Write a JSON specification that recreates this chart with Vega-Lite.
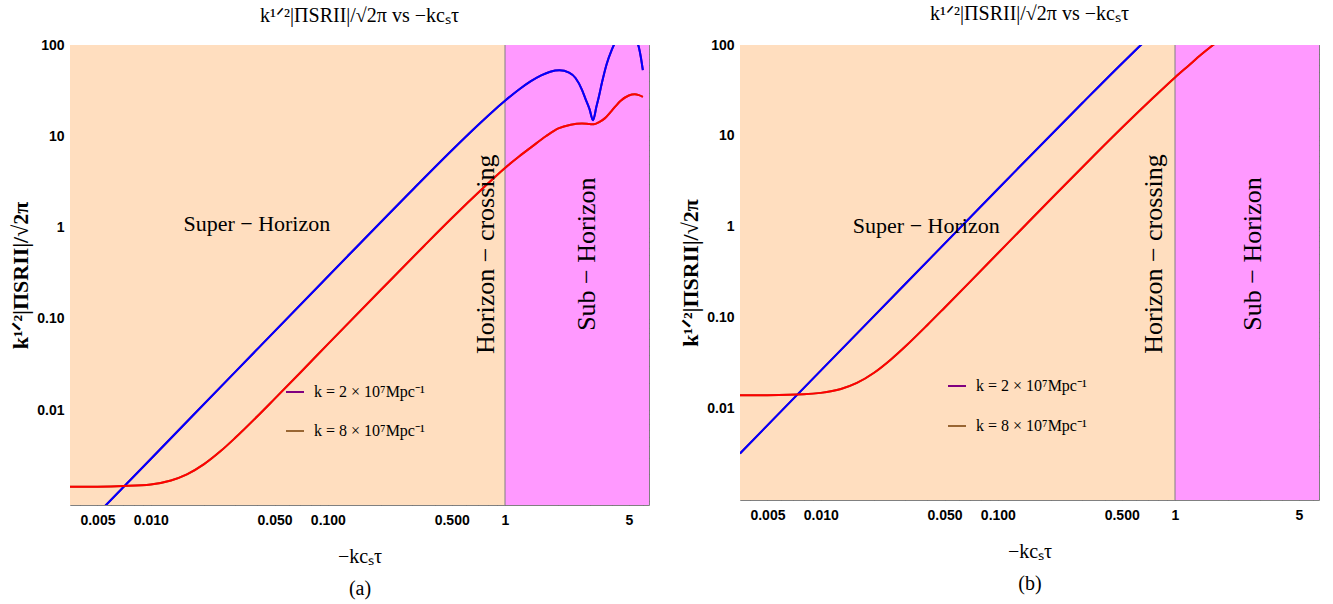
{
  "$schema": "https://vega.github.io/schema/vega-lite/v6.json",
  "padding": {"left": 9, "top": 3, "right": 5, "bottom": 5},
  "spacing": 29,
  "background": "white",
  "config": {
    "view": {"stroke": "#808080", "strokeWidth": 1},
    "axis": {"grid": false, "domain": false, "ticks": true, "zindex": 2, "tickColor": "#707070", "tickWidth": 1, "tickOpacity": 1, "labelFont": "Liberation Sans", "labelFontWeight": "bold", "labelFontSize": 14, "labelColor": "#000000", "titleFont": "Liberation Serif", "titleFontWeight": "normal", "titleColor": "#000000", "labelFlush": false, "labelOverlap": false, "labelBound": false},
    "title": {"font": "Liberation Serif", "fontSize": 20, "fontWeight": "normal", "color": "#000000"},
    "text": {"font": "Liberation Serif", "color": "#000000"}
  },
  "resolve": {"scale": {"color": "independent", "stroke": "independent", "fill": "independent", "x": "independent", "y": "independent"}, "legend": {"color": "independent"}},
  "datasets": {
    "a": [
      {"x": 0.0035, "y": 0.000357, "series": "k = 2 × 10⁷Mpc⁻¹"},
      {"x": 0.005, "y": 0.000728, "series": "k = 2 × 10⁷Mpc⁻¹"},
      {"x": 0.01, "y": 0.00291, "series": "k = 2 × 10⁷Mpc⁻¹"},
      {"x": 0.03, "y": 0.0262, "series": "k = 2 × 10⁷Mpc⁻¹"},
      {"x": 0.1, "y": 0.2905, "series": "k = 2 × 10⁷Mpc⁻¹"},
      {"x": 0.3, "y": 2.58, "series": "k = 2 × 10⁷Mpc⁻¹"},
      {"x": 0.5, "y": 6.98, "series": "k = 2 × 10⁷Mpc⁻¹"},
      {"x": 0.7, "y": 13.12, "series": "k = 2 × 10⁷Mpc⁻¹"},
      {"x": 0.85, "y": 18.58, "series": "k = 2 × 10⁷Mpc⁻¹"},
      {"x": 0.9, "y": 20.5, "series": "k = 2 × 10⁷Mpc⁻¹"},
      {"x": 1.0, "y": 24.5, "series": "k = 2 × 10⁷Mpc⁻¹"},
      {"x": 1.1, "y": 28.5, "series": "k = 2 × 10⁷Mpc⁻¹"},
      {"x": 1.2, "y": 32.5, "series": "k = 2 × 10⁷Mpc⁻¹"},
      {"x": 1.4, "y": 40.1, "series": "k = 2 × 10⁷Mpc⁻¹"},
      {"x": 1.6, "y": 46.5, "series": "k = 2 × 10⁷Mpc⁻¹"},
      {"x": 1.8, "y": 51.0, "series": "k = 2 × 10⁷Mpc⁻¹"},
      {"x": 2.03, "y": 52.9, "series": "k = 2 × 10⁷Mpc⁻¹"},
      {"x": 2.3, "y": 49.9, "series": "k = 2 × 10⁷Mpc⁻¹"},
      {"x": 2.5, "y": 43.5, "series": "k = 2 × 10⁷Mpc⁻¹"},
      {"x": 2.72, "y": 32.3, "series": "k = 2 × 10⁷Mpc⁻¹"},
      {"x": 2.85, "y": 25.5, "series": "k = 2 × 10⁷Mpc⁻¹"},
      {"x": 3.0, "y": 19.8, "series": "k = 2 × 10⁷Mpc⁻¹"},
      {"x": 3.14, "y": 15, "series": "k = 2 × 10⁷Mpc⁻¹"},
      {"x": 3.28, "y": 21, "series": "k = 2 × 10⁷Mpc⁻¹"},
      {"x": 3.4, "y": 28, "series": "k = 2 × 10⁷Mpc⁻¹"},
      {"x": 3.53, "y": 39, "series": "k = 2 × 10⁷Mpc⁻¹"},
      {"x": 3.75, "y": 62, "series": "k = 2 × 10⁷Mpc⁻¹"},
      {"x": 4.0, "y": 88, "series": "k = 2 × 10⁷Mpc⁻¹"},
      {"x": 4.2, "y": 108, "series": "k = 2 × 10⁷Mpc⁻¹"},
      {"x": 4.5, "y": 132, "series": "k = 2 × 10⁷Mpc⁻¹"},
      {"x": 5.0, "y": 144, "series": "k = 2 × 10⁷Mpc⁻¹"},
      {"x": 5.3, "y": 130, "series": "k = 2 × 10⁷Mpc⁻¹"},
      {"x": 5.5, "y": 113, "series": "k = 2 × 10⁷Mpc⁻¹"},
      {"x": 5.7, "y": 94, "series": "k = 2 × 10⁷Mpc⁻¹"},
      {"x": 5.85, "y": 73, "series": "k = 2 × 10⁷Mpc⁻¹"},
      {"x": 6.0, "y": 53, "series": "k = 2 × 10⁷Mpc⁻¹"},
      {"x": 0.0035, "y": 0.00144, "series": "k = 8 × 10⁷Mpc⁻¹"},
      {"x": 0.005, "y": 0.001446, "series": "k = 8 × 10⁷Mpc⁻¹"},
      {"x": 0.007, "y": 0.00147, "series": "k = 8 × 10⁷Mpc⁻¹"},
      {"x": 0.01, "y": 0.00153, "series": "k = 8 × 10⁷Mpc⁻¹"},
      {"x": 0.013, "y": 0.00169, "series": "k = 8 × 10⁷Mpc⁻¹"},
      {"x": 0.016, "y": 0.00197, "series": "k = 8 × 10⁷Mpc⁻¹"},
      {"x": 0.02, "y": 0.00255, "series": "k = 8 × 10⁷Mpc⁻¹"},
      {"x": 0.025, "y": 0.00359, "series": "k = 8 × 10⁷Mpc⁻¹"},
      {"x": 0.03, "y": 0.00496, "series": "k = 8 × 10⁷Mpc⁻¹"},
      {"x": 0.04, "y": 0.00855, "series": "k = 8 × 10⁷Mpc⁻¹"},
      {"x": 0.05, "y": 0.01325, "series": "k = 8 × 10⁷Mpc⁻¹"},
      {"x": 0.07, "y": 0.0258, "series": "k = 8 × 10⁷Mpc⁻¹"},
      {"x": 0.1, "y": 0.0527, "series": "k = 8 × 10⁷Mpc⁻¹"},
      {"x": 0.2, "y": 0.209, "series": "k = 8 × 10⁷Mpc⁻¹"},
      {"x": 0.35, "y": 0.632, "series": "k = 8 × 10⁷Mpc⁻¹"},
      {"x": 0.5, "y": 1.263, "series": "k = 8 × 10⁷Mpc⁻¹"},
      {"x": 0.75, "y": 2.69, "series": "k = 8 × 10⁷Mpc⁻¹"},
      {"x": 1.0, "y": 4.5, "series": "k = 8 × 10⁷Mpc⁻¹"},
      {"x": 1.2, "y": 6.0, "series": "k = 8 × 10⁷Mpc⁻¹"},
      {"x": 1.42, "y": 7.7, "series": "k = 8 × 10⁷Mpc⁻¹"},
      {"x": 1.7, "y": 10.0, "series": "k = 8 × 10⁷Mpc⁻¹"},
      {"x": 2.0, "y": 12.2, "series": "k = 8 × 10⁷Mpc⁻¹"},
      {"x": 2.35, "y": 13.4, "series": "k = 8 × 10⁷Mpc⁻¹"},
      {"x": 2.72, "y": 13.8, "series": "k = 8 × 10⁷Mpc⁻¹"},
      {"x": 3.0, "y": 13.6, "series": "k = 8 × 10⁷Mpc⁻¹"},
      {"x": 3.17, "y": 13.5, "series": "k = 8 × 10⁷Mpc⁻¹"},
      {"x": 3.4, "y": 14.3, "series": "k = 8 × 10⁷Mpc⁻¹"},
      {"x": 3.67, "y": 15.8, "series": "k = 8 × 10⁷Mpc⁻¹"},
      {"x": 4.0, "y": 19.0, "series": "k = 8 × 10⁷Mpc⁻¹"},
      {"x": 4.5, "y": 24.5, "series": "k = 8 × 10⁷Mpc⁻¹"},
      {"x": 5.0, "y": 28.0, "series": "k = 8 × 10⁷Mpc⁻¹"},
      {"x": 5.4, "y": 28.8, "series": "k = 8 × 10⁷Mpc⁻¹"},
      {"x": 5.7, "y": 28.2, "series": "k = 8 × 10⁷Mpc⁻¹"},
      {"x": 6.0, "y": 27.0, "series": "k = 8 × 10⁷Mpc⁻¹"}
    ],
    "b": [
      {"x": 0.0035, "y": 0.00319, "series": "k = 2 × 10⁷Mpc⁻¹"},
      {"x": 0.01, "y": 0.026, "series": "k = 2 × 10⁷Mpc⁻¹"},
      {"x": 0.03, "y": 0.234, "series": "k = 2 × 10⁷Mpc⁻¹"},
      {"x": 0.1, "y": 2.597, "series": "k = 2 × 10⁷Mpc⁻¹"},
      {"x": 0.3, "y": 23.0, "series": "k = 2 × 10⁷Mpc⁻¹"},
      {"x": 0.5, "y": 62.3, "series": "k = 2 × 10⁷Mpc⁻¹"},
      {"x": 0.6, "y": 88.1, "series": "k = 2 × 10⁷Mpc⁻¹"},
      {"x": 0.65, "y": 102.3, "series": "k = 2 × 10⁷Mpc⁻¹"},
      {"x": 0.7, "y": 117, "series": "k = 2 × 10⁷Mpc⁻¹"},
      {"x": 0.0035, "y": 0.0139, "series": "k = 8 × 10⁷Mpc⁻¹"},
      {"x": 0.005, "y": 0.01396, "series": "k = 8 × 10⁷Mpc⁻¹"},
      {"x": 0.008, "y": 0.01428, "series": "k = 8 × 10⁷Mpc⁻¹"},
      {"x": 0.01, "y": 0.01481, "series": "k = 8 × 10⁷Mpc⁻¹"},
      {"x": 0.013, "y": 0.01636, "series": "k = 8 × 10⁷Mpc⁻¹"},
      {"x": 0.016, "y": 0.01907, "series": "k = 8 × 10⁷Mpc⁻¹"},
      {"x": 0.02, "y": 0.02469, "series": "k = 8 × 10⁷Mpc⁻¹"},
      {"x": 0.025, "y": 0.0348, "series": "k = 8 × 10⁷Mpc⁻¹"},
      {"x": 0.03, "y": 0.04796, "series": "k = 8 × 10⁷Mpc⁻¹"},
      {"x": 0.04, "y": 0.0828, "series": "k = 8 × 10⁷Mpc⁻¹"},
      {"x": 0.05, "y": 0.1283, "series": "k = 8 × 10⁷Mpc⁻¹"},
      {"x": 0.07, "y": 0.25, "series": "k = 8 × 10⁷Mpc⁻¹"},
      {"x": 0.1, "y": 0.51, "series": "k = 8 × 10⁷Mpc⁻¹"},
      {"x": 0.2, "y": 2.03, "series": "k = 8 × 10⁷Mpc⁻¹"},
      {"x": 0.35, "y": 6.12, "series": "k = 8 × 10⁷Mpc⁻¹"},
      {"x": 0.5, "y": 12.2, "series": "k = 8 × 10⁷Mpc⁻¹"},
      {"x": 0.75, "y": 26.1, "series": "k = 8 × 10⁷Mpc⁻¹"},
      {"x": 1.0, "y": 44, "series": "k = 8 × 10⁷Mpc⁻¹"},
      {"x": 1.2, "y": 60, "series": "k = 8 × 10⁷Mpc⁻¹"},
      {"x": 1.4, "y": 78, "series": "k = 8 × 10⁷Mpc⁻¹"},
      {"x": 1.64, "y": 100, "series": "k = 8 × 10⁷Mpc⁻¹"},
      {"x": 1.8, "y": 115, "series": "k = 8 × 10⁷Mpc⁻¹"}
    ],
    "regions": [
      {"x0": 0.0035, "x1": 1, "region": "Super"},
      {"x0": 1, "x1": 6.5, "region": "Sub"}
    ],
    "boundary": [{"x": 1}],
    "hlabA": [{"x": 0.0397, "y": 1.08, "label": "Super − Horizon"}],
    "vlabA": [
      {"x": 0.786, "y": 0.51, "label": "Horizon − crossing"},
      {"x": 2.92, "y": 0.51, "label": "Sub − Horizon"}
    ],
    "hlabB": [{"x": 0.0394, "y": 1.02, "label": "Super − Horizon"}],
    "vlabB": [
      {"x": 0.765, "y": 0.5, "label": "Horizon − crossing"},
      {"x": 2.77, "y": 0.5, "label": "Sub − Horizon"}
    ]
  },
  "hconcat": [
    {
      "width": 579,
      "height": 460,
      "title": {"text": "k¹ᐟ²|ΠSRII|/√2π vs −kcₛτ", "offset": 12},
      "resolve": {"axis": {"x": "independent", "y": "independent"}},
      "layer": [
        {
          "data": {"name": "regions"},
          "mark": {"type": "rect"},
          "encoding": {
            "x": {"field": "x0", "type": "quantitative", "scale": {"type": "log", "domain": [0.0035, 6.5], "nice": false}, "axis": null},
            "x2": {"field": "x1"},
            "fill": {"field": "region", "type": "nominal", "scale": {"domain": ["Super", "Sub"], "range": ["#FFDEBF", "#FF99FF"]}, "legend": null}
          }
        },
        {
          "data": {"name": "boundary"},
          "mark": {"type": "rule", "color": "#808080", "strokeWidth": 1},
          "encoding": {
            "x": {"field": "x", "type": "quantitative", "scale": {"type": "log", "domain": [0.0035, 6.5], "nice": false}, "axis": null}
          }
        },
        {
          "data": {"name": "a"},
          "mark": {"type": "line", "strokeWidth": 2, "clip": true, "interpolate": "monotone"},
          "encoding": {
            "x": {"field": "x", "type": "quantitative", "scale": {"type": "log", "domain": [0.0035, 6.5], "nice": false},
              "axis": {"orient": "bottom", "ticks": true, "offset": -4, "tickSize": 4, "values": [0.004, 0.006, 0.007, 0.008, 0.009, 0.02, 0.03, 0.04, 0.06, 0.07, 0.08, 0.09, 0.2, 0.3, 0.4, 0.6, 0.7, 0.8, 0.9, 2, 3, 4, 6], "labels": false, "title": null}},
            "y": {"field": "y", "type": "quantitative", "scale": {"type": "log", "domain": [0.00091, 100], "nice": false},
              "axis": {"orient": "left", "ticks": true, "offset": -4, "tickSize": 4, "values": [0.002, 0.003, 0.004, 0.005, 0.006, 0.007, 0.008, 0.009, 0.02, 0.03, 0.04, 0.05, 0.06, 0.07, 0.08, 0.09, 0.2, 0.3, 0.4, 0.5, 0.6, 0.7, 0.8, 0.9, 2, 3, 4, 5, 6, 7, 8, 9, 20, 30, 40, 50, 60, 70, 80, 90], "labels": false, "title": null}},
            "color": {"field": "series", "type": "nominal",
              "scale": {"domain": ["k = 2 × 10⁷Mpc⁻¹", "k = 8 × 10⁷Mpc⁻¹"], "range": ["#800080", "#996633"]},
              "legend": {"orient": "none", "legendX": 215, "legendY": 337, "title": null, "symbolType": "stroke", "symbolSize": 324, "symbolStrokeWidth": 2, "labelFont": "Liberation Serif", "labelFontSize": 16, "labelColor": "#000000", "labelOffset": 9, "rowPadding": 21, "padding": 0}}
          }
        },
        {
          "data": {"name": "a"},
          "mark": {"type": "line", "strokeWidth": 2, "clip": true, "interpolate": "monotone"},
          "encoding": {
            "x": {"field": "x", "type": "quantitative", "scale": {"type": "log", "domain": [0.0035, 6.5], "nice": false},
              "axis": {"orient": "bottom", "ticks": true, "offset": -7, "tickSize": 7, "values": [0.005, 0.01, 0.05, 0.1, 0.5, 1, 5],
                "labelExpr": "datum.value >= 1 ? format(datum.value, 'd') : format(datum.value, '.3f')",
                "labelPadding": 8, "title": ["−kcₛτ", "(a)"], "titleFontSize": 20, "titleLineHeight": 32, "titlePadding": 19}},
            "y": {"field": "y", "type": "quantitative", "scale": {"type": "log", "domain": [0.00091, 100], "nice": false},
              "axis": {"orient": "left", "ticks": true, "offset": -7, "tickSize": 7, "values": [0.001, 0.01, 0.1, 1, 10, 100],
                "labelExpr": "datum.value < 0.005 ? '' : (datum.value >= 1 ? format(datum.value, 'd') : format(datum.value, '.2f'))",
                "labelPadding": 6, "title": "k¹ᐟ²|ΠSRII|/√2π", "titleFontWeight": "bold", "titleFontSize": 22, "titlePadding": 4}},
            "stroke": {"field": "series", "type": "nominal",
              "scale": {"domain": ["k = 2 × 10⁷Mpc⁻¹", "k = 8 × 10⁷Mpc⁻¹"], "range": ["#0000FF", "#FF0000"]}, "legend": null}
          }
        },
        {
          "data": {"name": "hlabA"},
          "mark": {"type": "text", "fontSize": 22, "align": "center", "baseline": "middle"},
          "encoding": {
            "x": {"field": "x", "type": "quantitative", "scale": {"type": "log", "domain": [0.0035, 6.5], "nice": false},
              "axis": {"orient": "top", "ticks": true, "offset": -7, "tickSize": 7, "values": [0.005, 0.01, 0.05, 0.1, 0.5, 1, 5], "labels": false, "title": null}},
            "y": {"field": "y", "type": "quantitative", "scale": {"type": "log", "domain": [0.00091, 100], "nice": false},
              "axis": {"orient": "right", "ticks": true, "offset": -7, "tickSize": 7, "values": [0.001, 0.01, 0.1, 1, 10, 100], "labels": false, "title": null}},
            "text": {"field": "label"}
          }
        },
        {
          "data": {"name": "vlabA"},
          "mark": {"type": "text", "fontSize": 26, "angle": 270, "align": "center", "baseline": "middle"},
          "encoding": {
            "x": {"field": "x", "type": "quantitative", "scale": {"type": "log", "domain": [0.0035, 6.5], "nice": false},
              "axis": {"orient": "top", "ticks": true, "offset": -4, "tickSize": 4, "values": [0.004, 0.006, 0.007, 0.008, 0.009, 0.02, 0.03, 0.04, 0.06, 0.07, 0.08, 0.09, 0.2, 0.3, 0.4, 0.6, 0.7, 0.8, 0.9, 2, 3, 4, 6], "labels": false, "title": null}},
            "y": {"field": "y", "type": "quantitative", "scale": {"type": "log", "domain": [0.00091, 100], "nice": false},
              "axis": {"orient": "right", "ticks": true, "offset": -4, "tickSize": 4, "values": [0.002, 0.003, 0.004, 0.005, 0.006, 0.007, 0.008, 0.009, 0.02, 0.03, 0.04, 0.05, 0.06, 0.07, 0.08, 0.09, 0.2, 0.3, 0.4, 0.5, 0.6, 0.7, 0.8, 0.9, 2, 3, 4, 5, 6, 7, 8, 9, 20, 30, 40, 50, 60, 70, 80, 90], "labels": false, "title": null}},
            "text": {"field": "label"}
          }
        }
      ]
    },
    {
      "width": 579,
      "height": 455,
      "title": {"text": "k¹ᐟ²|ΠSRII|/√2π vs −kcₛτ", "offset": 14},
      "resolve": {"axis": {"x": "independent", "y": "independent"}},
      "layer": [
        {
          "data": {"name": "regions"},
          "mark": {"type": "rect"},
          "encoding": {
            "x": {"field": "x0", "type": "quantitative", "scale": {"type": "log", "domain": [0.0035, 6.5], "nice": false}, "axis": null},
            "x2": {"field": "x1"},
            "fill": {"field": "region", "type": "nominal", "scale": {"domain": ["Super", "Sub"], "range": ["#FFDEBF", "#FF99FF"]}, "legend": null}
          }
        },
        {
          "data": {"name": "boundary"},
          "mark": {"type": "rule", "color": "#808080", "strokeWidth": 1},
          "encoding": {
            "x": {"field": "x", "type": "quantitative", "scale": {"type": "log", "domain": [0.0035, 6.5], "nice": false}, "axis": null}
          }
        },
        {
          "data": {"name": "b"},
          "mark": {"type": "line", "strokeWidth": 2, "clip": true, "interpolate": "monotone"},
          "encoding": {
            "x": {"field": "x", "type": "quantitative", "scale": {"type": "log", "domain": [0.0035, 6.5], "nice": false},
              "axis": {"orient": "bottom", "ticks": true, "offset": -4, "tickSize": 4, "values": [0.004, 0.006, 0.007, 0.008, 0.009, 0.02, 0.03, 0.04, 0.06, 0.07, 0.08, 0.09, 0.2, 0.3, 0.4, 0.6, 0.7, 0.8, 0.9, 2, 3, 4, 6], "labels": false, "title": null}},
            "y": {"field": "y", "type": "quantitative", "scale": {"type": "log", "domain": [0.00098, 100], "nice": false},
              "axis": {"orient": "left", "ticks": true, "offset": -4, "tickSize": 4, "values": [0.002, 0.003, 0.004, 0.005, 0.006, 0.007, 0.008, 0.009, 0.02, 0.03, 0.04, 0.05, 0.06, 0.07, 0.08, 0.09, 0.2, 0.3, 0.4, 0.5, 0.6, 0.7, 0.8, 0.9, 2, 3, 4, 5, 6, 7, 8, 9, 20, 30, 40, 50, 60, 70, 80, 90], "labels": false, "title": null}},
            "color": {"field": "series", "type": "nominal",
              "scale": {"domain": ["k = 2 × 10⁷Mpc⁻¹", "k = 8 × 10⁷Mpc⁻¹"], "range": ["#800080", "#996633"]},
              "legend": {"orient": "none", "legendX": 207, "legendY": 331, "title": null, "symbolType": "stroke", "symbolSize": 324, "symbolStrokeWidth": 2, "labelFont": "Liberation Serif", "labelFontSize": 16, "labelColor": "#000000", "labelOffset": 9, "rowPadding": 22, "padding": 0}}
          }
        },
        {
          "data": {"name": "b"},
          "mark": {"type": "line", "strokeWidth": 2, "clip": true, "interpolate": "monotone"},
          "encoding": {
            "x": {"field": "x", "type": "quantitative", "scale": {"type": "log", "domain": [0.0035, 6.5], "nice": false},
              "axis": {"orient": "bottom", "ticks": true, "offset": -7, "tickSize": 7, "values": [0.005, 0.01, 0.05, 0.1, 0.5, 1, 5],
                "labelExpr": "datum.value >= 1 ? format(datum.value, 'd') : format(datum.value, '.3f')",
                "labelPadding": 8, "title": ["−kcₛτ", "(b)"], "titleFontSize": 20, "titleLineHeight": 32, "titlePadding": 19}},
            "y": {"field": "y", "type": "quantitative", "scale": {"type": "log", "domain": [0.00098, 100], "nice": false},
              "axis": {"orient": "left", "ticks": true, "offset": -7, "tickSize": 7, "values": [0.001, 0.01, 0.1, 1, 10, 100],
                "labelExpr": "datum.value < 0.005 ? '' : (datum.value >= 1 ? format(datum.value, 'd') : format(datum.value, '.2f'))",
                "labelPadding": 6, "title": "k¹ᐟ²|ΠSRII|/√2π", "titleFontWeight": "bold", "titleFontSize": 22, "titlePadding": 4}},
            "stroke": {"field": "series", "type": "nominal",
              "scale": {"domain": ["k = 2 × 10⁷Mpc⁻¹", "k = 8 × 10⁷Mpc⁻¹"], "range": ["#0000FF", "#FF0000"]}, "legend": null}
          }
        },
        {
          "data": {"name": "hlabB"},
          "mark": {"type": "text", "fontSize": 22, "align": "center", "baseline": "middle"},
          "encoding": {
            "x": {"field": "x", "type": "quantitative", "scale": {"type": "log", "domain": [0.0035, 6.5], "nice": false},
              "axis": {"orient": "top", "ticks": true, "offset": -7, "tickSize": 7, "values": [0.005, 0.01, 0.05, 0.1, 0.5, 1, 5], "labels": false, "title": null}},
            "y": {"field": "y", "type": "quantitative", "scale": {"type": "log", "domain": [0.00098, 100], "nice": false},
              "axis": {"orient": "right", "ticks": true, "offset": -7, "tickSize": 7, "values": [0.001, 0.01, 0.1, 1, 10, 100], "labels": false, "title": null}},
            "text": {"field": "label"}
          }
        },
        {
          "data": {"name": "vlabB"},
          "mark": {"type": "text", "fontSize": 26, "angle": 270, "align": "center", "baseline": "middle"},
          "encoding": {
            "x": {"field": "x", "type": "quantitative", "scale": {"type": "log", "domain": [0.0035, 6.5], "nice": false},
              "axis": {"orient": "top", "ticks": true, "offset": -4, "tickSize": 4, "values": [0.004, 0.006, 0.007, 0.008, 0.009, 0.02, 0.03, 0.04, 0.06, 0.07, 0.08, 0.09, 0.2, 0.3, 0.4, 0.6, 0.7, 0.8, 0.9, 2, 3, 4, 6], "labels": false, "title": null}},
            "y": {"field": "y", "type": "quantitative", "scale": {"type": "log", "domain": [0.00098, 100], "nice": false},
              "axis": {"orient": "right", "ticks": true, "offset": -4, "tickSize": 4, "values": [0.002, 0.003, 0.004, 0.005, 0.006, 0.007, 0.008, 0.009, 0.02, 0.03, 0.04, 0.05, 0.06, 0.07, 0.08, 0.09, 0.2, 0.3, 0.4, 0.5, 0.6, 0.7, 0.8, 0.9, 2, 3, 4, 5, 6, 7, 8, 9, 20, 30, 40, 50, 60, 70, 80, 90], "labels": false, "title": null}},
            "text": {"field": "label"}
          }
        }
      ]
    }
  ]
}
